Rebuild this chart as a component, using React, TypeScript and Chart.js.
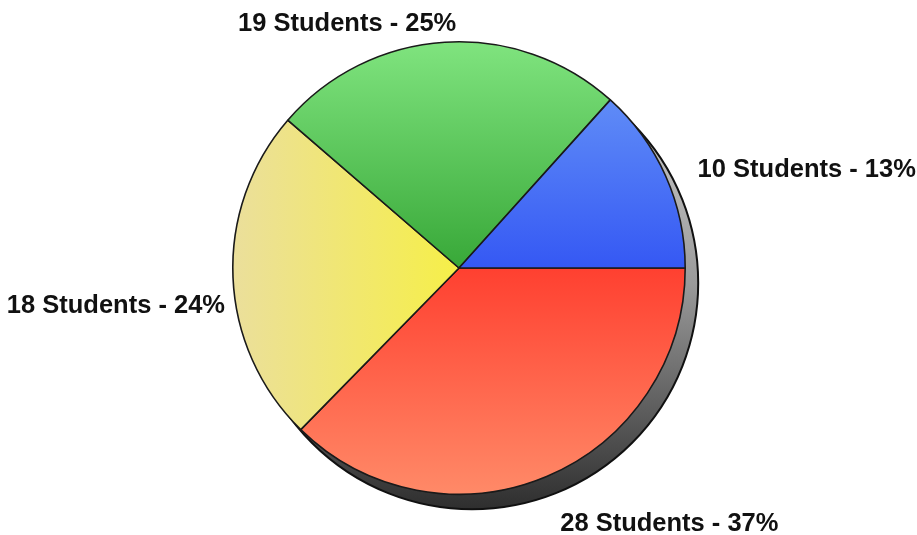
import React, { useEffect, useRef } from "react";
import { Chart, registerables } from "chart.js";

Chart.register(...registerables);

// Slices in clockwise order starting at 3 o'clock
const categories = ["Red", "Yellow", "Green", "Blue"];
const studentCounts = [28, 18, 19, 10];
const unitLabel = "Students";

// gradient stops per slice: [start, end]
const gradientStops: [string, string][] = [
  ["#ff4030", "#ff8a68"], // red: center -> bottom
  ["#ebdf9c", "#f6ef48"], // yellow: left -> center
  ["#80e47f", "#38a838"], // green: top -> center
  ["#6e9ef8", "#3558f4"], // blue: top -> center
];
const gradientDirs = ["down", "right", "upper", "upper"];

const SHADOW_DX = 13;
const SHADOW_DY = 15;

const shadowPlugin = {
  id: "pieShadow",
  beforeDatasetsDraw(chart: any) {
    const meta = chart.getDatasetMeta(0);
    const arc = meta.data[0];
    if (!arc) return;
    const { x, y, outerRadius } = arc.getProps(["x", "y", "outerRadius"], true);
    const ctx = chart.ctx;
    ctx.save();
    const g = ctx.createLinearGradient(
      x + SHADOW_DX,
      y + SHADOW_DY - outerRadius,
      x + SHADOW_DX,
      y + SHADOW_DY + outerRadius
    );
    g.addColorStop(0, "#d8d8d8");
    g.addColorStop(0.5, "#9a9a9a");
    g.addColorStop(1, "#2e2e2e");
    ctx.beginPath();
    ctx.arc(x + SHADOW_DX, y + SHADOW_DY, outerRadius, 0, Math.PI * 2);
    ctx.fillStyle = g;
    ctx.fill();
    ctx.lineWidth = 2;
    ctx.strokeStyle = "#111";
    ctx.stroke();
    ctx.restore();
  },
};

const labelPlugin = {
  id: "outerLabels",
  afterDatasetsDraw(chart: any) {
    const meta = chart.getDatasetMeta(0);
    const ctx = chart.ctx;
    const values: number[] = chart.data.datasets[0].data;
    const total = values.reduce((a, b) => a + b, 0);
    const h = 24;
    ctx.save();
    ctx.font = "bold 25.5px 'Liberation Sans', Arial, sans-serif";
    ctx.fillStyle = "#111";
    ctx.textBaseline = "middle";
    meta.data.forEach((el: any, i: number) => {
      const { x, y, startAngle, endAngle, outerRadius } = el.getProps(
        ["x", "y", "startAngle", "endAngle", "outerRadius"],
        true
      );
      const mid = (startAngle + endAngle) / 2;
      const c = Math.cos(mid);
      const s = Math.sin(mid);
      const r = outerRadius + 8;
      // labels on the shadow side sit further out
      const px = x + r * c + 27 * Math.max(0, c);
      let py = y + r * s + 41 * Math.max(0, s);
      if (s < 0) py -= (h / 2) * Math.abs(s);
      if (c < -0.3) py += h;
      py += 2;
      const pct = Math.round((values[i] / total) * 100);
      const text = `${values[i]} ${unitLabel} - ${pct}%`;
      if (Math.abs(c) < 0.3) {
        ctx.textAlign = "right";
        ctx.fillText(text, px + 12, py);
      } else {
        ctx.textAlign = c > 0 ? "left" : "right";
        ctx.fillText(text, px, py);
      }
    });
    ctx.restore();
  },
};

export default function App() {
  const canvasRef = useRef<HTMLCanvasElement | null>(null);

  useEffect(() => {
    document.body.style.margin = "0";
    const canvas = canvasRef.current;
    if (!canvas) return;
    const chart = new Chart(canvas, {
      type: "pie",
      data: {
        labels: categories,
        datasets: [
          {
            data: studentCounts,
            backgroundColor: (context: any) => {
              const ch = context.chart;
              const area = ch.chartArea;
              if (!area) return gradientStops[context.dataIndex][0];
              const cx = (area.left + area.right) / 2;
              const cy = (area.top + area.bottom) / 2;
              const r = Math.min(area.right - area.left, area.bottom - area.top) / 2;
              const i = context.dataIndex;
              const dir = gradientDirs[i];
              let g;
              if (dir === "down") g = ch.ctx.createLinearGradient(0, cy, 0, cy + r);
              else if (dir === "right") g = ch.ctx.createLinearGradient(cx - r, 0, cx, 0);
              else g = ch.ctx.createLinearGradient(0, cy - r, 0, cy);
              g.addColorStop(0, gradientStops[i][0]);
              g.addColorStop(1, gradientStops[i][1]);
              return g;
            },
            borderColor: "#1a1a1a",
            borderWidth: 1.6,
          },
        ],
      },
      options: {
        responsive: false,
        animation: false,
        rotation: 90,
        layout: { padding: { top: 41, bottom: 40, left: 232, right: 231 } },
        plugins: {
          legend: { display: false },
          tooltip: { enabled: false },
        },
      },
      plugins: [shadowPlugin, labelPlugin],
    });
    return () => chart.destroy();
  }, []);

  return (
    <div style={{ width: 917, height: 535, background: "#fff" }}>
      <canvas ref={canvasRef} width={917} height={535} />
    </div>
  );
}
